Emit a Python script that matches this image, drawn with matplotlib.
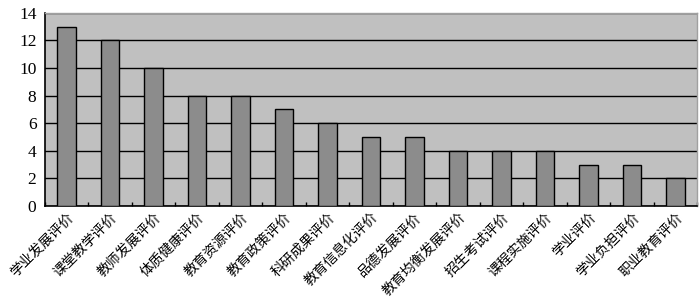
import numpy as np
import matplotlib.pyplot as plt

categories = ['学业发展评价', '课堂教学评价', '教师发展评价', '体质健康评价', '教育资源评价',
              '教育政策评价', '科研成果评价', '教育信息化评价', '品德发展评价', '教育均衡发展评价',
              '招生考试评价', '课程实施评价', '学业评价', '学业负担评价', '职业教育评价']
counts = [13, 12, 10, 8, 8, 7, 6, 5, 5, 4, 4, 4, 3, 3, 2]
yticks = [0, 2, 4, 6, 8, 10, 12, 14]

fig = plt.figure(figsize=(7, 2.99), dpi=100)
ax = fig.add_axes([0.064, 0.311, 0.932, 0.646])
ax.set_facecolor('#c0c0c0')

x = np.arange(len(categories))
ax.bar(x, counts, width=0.42, color='#8c8c8c', edgecolor='black', linewidth=1.0, zorder=3)

ax.set_xlim(-0.5, len(categories) - 0.5)
ax.set_ylim(0, 14)
ax.set_yticks(yticks)
ax.yaxis.grid(True, color='black', linewidth=1.0, zorder=1)
ax.set_axisbelow(True)

ax.set_yticklabels([str(v) for v in yticks], fontfamily='Liberation Serif', fontsize=12.5)
ax.tick_params(axis='y', length=0, pad=6)

# category boundary ticks pointing inward at the bottom
ax.set_xticks(np.arange(len(categories) + 1) - 0.5, minor=True)
ax.tick_params(axis='x', which='minor', direction='in', length=3, width=1, color='black')
ax.set_xticks(x)
ax.set_xticklabels(categories, rotation=45, ha='right', rotation_mode='anchor',
                   fontfamily=['Noto Sans CJK SC'], fontsize=10)
ax.tick_params(axis='x', which='major', length=0, pad=3)

for side in ['left', 'bottom']:
    ax.spines[side].set_color('black')
    ax.spines[side].set_linewidth(1.2)
for side in ['top', 'right']:
    ax.spines[side].set_color('#a0a0a0')
    ax.spines[side].set_linewidth(1.0)

fig.savefig('out.png', dpi=100)
